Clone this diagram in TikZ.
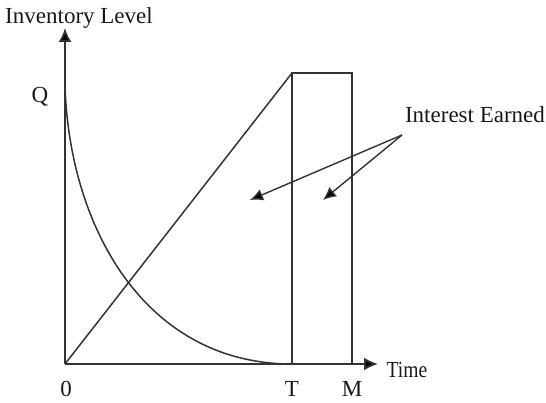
\documentclass[tikz,border=0pt]{standalone}
\usepackage{fontspec}
\setmainfont{Liberation Serif}
\usetikzlibrary{arrows.meta}
\begin{document}
\begin{tikzpicture}[x=1pt,y=1pt,
  lbl/.style={inner sep=0pt,font=\fontsize{23}{27}\selectfont,text=black!90},
  ln/.style={line width=1.5pt,draw=black!80},
  arr/.style={ln,-{Latex[length=14pt,width=13pt,fill=black]}}]
\useasboundingbox (0,0) rectangle (546,402);
% key points (pixel coords, y flipped)
\coordinate (O) at (65,38);
\coordinate (ytop) at (65,374);
\coordinate (xend) at (378,38);
\coordinate (Tb) at (292,38);
\coordinate (Tt) at (292,329);
\coordinate (Mb) at (352,38);
\coordinate (Mt) at (352,329);
\coordinate (Qs) at (65,317);
% axes
\draw[arr,line width=1.8pt] (O) -- (ytop);
\draw[arr,line width=1.8pt] (O) -- (xend);
% linear rise and rectangle
\draw[ln] (O) -- (Tt);
\draw[ln] (Tb) -- (Tt) -- (Mt) -- (Mb);
% decay curve
\draw[ln] (Qs) .. controls (69,175) and (145,38) .. (Tb);
% labels
\node[lbl] (il) at (79,384) {Inventory Level};
\node[lbl] (q) at (40,305) {Q};
\node[lbl] (ie) at (475,287) {Interest Earned};
\node[lbl,xscale=0.85] (tm) at (407,32) {Time};
\node[lbl] (z) at (66,13) {0};
\node[lbl] (t) at (292,13) {T};
\node[lbl] (m) at (352,13) {M};
% interest arrows
\coordinate (src) at (402,267);
\coordinate (a1) at (250,202);
\coordinate (a2) at (323,202);
\draw[arr,line width=1.4pt,-{Latex[length=13pt,width=12pt,fill=black]}] (src) -- (a1);
\draw[arr,line width=1.4pt,-{Latex[length=13pt,width=12pt,fill=black]}] (src) -- (a2);
\end{tikzpicture}
\end{document}
